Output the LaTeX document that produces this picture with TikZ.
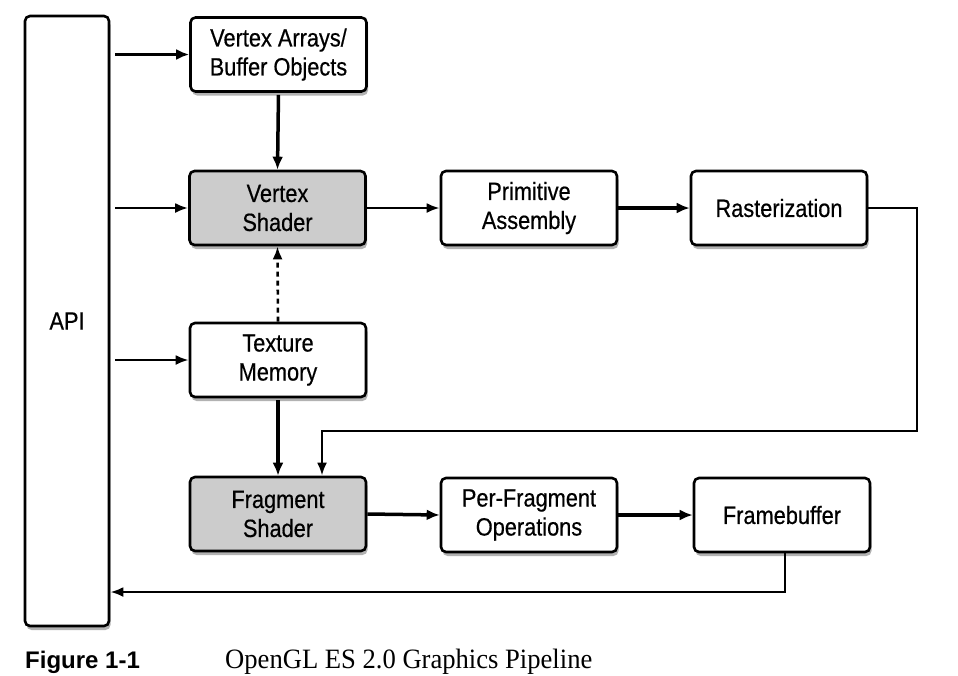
\documentclass[tikz,border=0pt]{standalone}
\usepackage{fontspec}
\setmainfont{Liberation Sans}
\newfontfamily\labfont{Liberation Sans}[FakeStretch=0.87,FakeBold=0.5]
\newfontfamily\capserif{Liberation Serif}[FakeStretch=0.95]
\usetikzlibrary{arrows.meta,shadows,calc}
\begin{document}
\begin{tikzpicture}[x=1pt,y=-1pt,
  box/.style={draw=black, line width=2.6pt, rounded corners=5pt, fill=white,
    minimum width=176pt, minimum height=74pt, align=center, inner sep=2pt,
    font=\labfont\fontsize{25}{29}\selectfont,
    drop shadow={shadow xshift=1.5pt, shadow yshift=-4pt, opacity=0.3, fill=black}},
  shaded/.style={box, fill=black!20},
  thickarr/.style={line width=3.5pt, -{Latex[length=13pt,width=11pt]}},
  thinarr/.style={line width=2.6pt, -{Latex[length=13pt,width=10pt]}},
  dasharr/.style={line width=2.6pt, dash pattern=on 5pt off 4pt, -{Latex[length=13pt,width=10pt]}}
]
\useasboundingbox (0,0) rectangle (958,675);
\fill[white] (0,0) rectangle (958,675);

\node[box, minimum width=84pt, minimum height=610pt] (API) at (67,321) {API};
\node[box] (VA) at (278.5,54.5) {Vertex Arrays/\\Buffer Objects};
\node[shaded] (VS) at (277.5,208) {Vertex\\Shader};
\node[box] (PA) at (529,208) {Primitive\\Assembly};
\node[box] (RA) at (779,208) {Rasterization};
\node[box] (TM) at (278,360) {Texture\\Memory};
\node[shaded] (FS) at (278,514) {Fragment\\Shader};
\node[box] (PF) at (529,515) {Per-Fragment\\Operations};
\node[box] (FB) at (782,515) {Framebuffer};

\coordinate (rt) at (917,431);
\coordinate (low) at (0,592);

\draw[thickarr, shorten <=5pt] (VA.west -| API.east) -- (VA.west);
\draw[thinarr, shorten <=5pt] (VS.west -| API.east) -- (VS.west);
\draw[thinarr, shorten <=5pt] (TM.west -| API.east) -- (TM.west);
\draw[thickarr, shorten <=2pt] (VA.south) -- (VS.north);
\draw[thinarr] (VS.east) -- (PA.west);
\draw[thickarr] (PA.east) -- (RA.west);
\draw[dasharr] (TM.north) -- (VS.south);
\draw[thickarr, shorten <=2pt] (TM.south) -- (FS.north);
\draw[thinarr] (RA.east) -| (rt) -| ([xshift=44pt]FS.north);
\draw[thickarr] (FS.east) -- (PF.west);
\draw[thickarr] (PF.east) -- (FB.west);
\draw[thinarr] ([xshift=3pt]FB.south) |- (API.east |- low);

\node[anchor=base west, font=\bfseries\fontsize{24}{28}\selectfont, inner sep=0pt] (cap1) at (25,668) {Figure 1-1};
\node[anchor=base west, font=\capserif\fontsize{28}{30}\selectfont, inner sep=0pt] (cap2) at (225,668) {OpenGL ES 2.0 Graphics Pipeline};
\end{tikzpicture}
\end{document}
